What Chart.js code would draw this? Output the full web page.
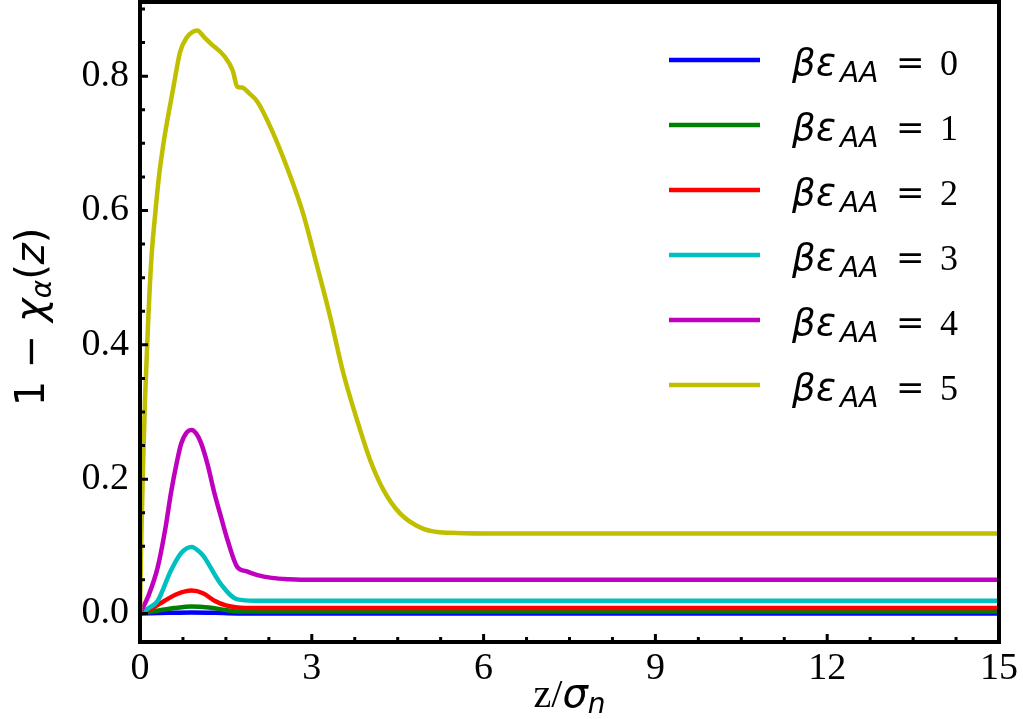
<!DOCTYPE html>
<html>
<head>
    <title>1 - chi_alpha(z)</title>
    <script src="https://cdn.jsdelivr.net/npm/chart.js@4.4.1/dist/chart.umd.min.js"></script>
    <style>
        body { margin: 0; background: #fff; }
    </style>
</head>
<body>
    <canvas id="chiChart" width="1023" height="719"></canvas>

    <script>
        // values
        const xTicks = [0, 3, 6, 9, 12, 15];
        const yTicks = [0, 0.2, 0.4, 0.6, 0.8];
        const legendLabels = ['0', '1', '2', '3', '4', '5'];
        const lineColors = ['#0000ff', '#008000', '#ff0000', '#00bfbf', '#bf00bf', '#bfbf00'];

        const z0 = [0, 0.5, 0.9, 1.3, 1.7, 15];
        const chi0 = [0, 0.001, 0.0015, 0.001, 0, 0];

        const z1 = [0, 0.3, 0.6, 0.9, 1.2, 1.5, 1.7, 2.0, 15];
        const chi1 = [0, 0.004, 0.008, 0.0105, 0.009, 0.005, 0.003, 0.003, 0.003];

        const z2 = [0, 0.2, 0.43, 0.65, 0.9, 1.1, 1.3, 1.5, 1.7, 2.0, 15];
        const chi2 = [0, 0.007, 0.019, 0.029, 0.034, 0.03, 0.019, 0.012, 0.009, 0.008, 0.008];

        const z3 = [0, 0.15, 0.31, 0.54, 0.72, 0.9, 1.06, 1.12, 1.41, 1.7, 2.0, 15];
        const chi3 = [0, 0.008, 0.019, 0.064, 0.09, 0.099, 0.09, 0.084, 0.044, 0.021, 0.019, 0.019];

        const z4 = [0, 0.15, 0.31, 0.45, 0.54, 0.65, 0.72, 0.82, 0.9, 0.98, 1.06, 1.18, 1.3, 1.42, 1.53, 1.7, 1.85, 2.05, 2.3, 2.6, 3.0, 15];
        const chi4 = [0, 0.027, 0.069, 0.13, 0.179, 0.228, 0.253, 0.27, 0.273, 0.268, 0.255, 0.222, 0.179, 0.142, 0.109, 0.069, 0.063, 0.057, 0.053, 0.051, 0.05, 0.05];

        const z5 = [0, 0.02, 0.05, 0.087, 0.145, 0.2, 0.26, 0.33, 0.41, 0.5, 0.58, 0.7, 0.82, 0.92, 1.0, 1.12, 1.24, 1.47, 1.62, 1.7, 1.78, 1.9, 2.05, 2.3, 2.62, 2.85, 3.09, 3.32, 3.55, 3.79, 4.02, 4.25, 4.54, 4.95, 5.42, 6.0, 15];
        const chi5 = [0, 0.1, 0.21, 0.318, 0.44, 0.53, 0.59, 0.65, 0.7, 0.745, 0.782, 0.836, 0.858, 0.866, 0.868, 0.858, 0.848, 0.83, 0.808, 0.784, 0.783, 0.775, 0.762, 0.72, 0.652, 0.595, 0.518, 0.442, 0.358, 0.288, 0.228, 0.184, 0.149, 0.126, 0.12, 0.119, 0.119];

        const zSeries = [z0, z1, z2, z3, z4, z5];
        const chiSeries = [chi0, chi1, chi2, chi3, chi4, chi5];

        const datasets = chiSeries.map((chi, i) => ({
            label: 'βε_AA = ' + legendLabels[i],
            data: chi.map((v, k) => ({ x: zSeries[i][k], y: v })),
            borderColor: lineColors[i],
            backgroundColor: lineColors[i],
            borderWidth: 4.5,
            pointRadius: 0,
            cubicInterpolationMode: 'monotone',
            order: 5 - i   // last curve on top
        }));

        const serif = '"Liberation Serif", "Times New Roman", serif';
        const sans = '"DejaVu Sans", sans-serif';

        // frame, inward ticks, axis titles and legend
        const decorPlugin = {
            id: 'decor',
            afterDraw(chart) {
                const ctx = chart.ctx;
                const a = chart.chartArea;
                const xs = chart.scales.x;
                const ys = chart.scales.y;
                ctx.save();

                ctx.strokeStyle = '#000';
                ctx.lineWidth = 4;
                ctx.strokeRect(a.left, a.top, a.right - a.left, a.bottom - a.top);

                ctx.lineWidth = 3;
                ctx.beginPath();
                for (let k = 0; k <= 20; k++) {
                    const px = xs.getPixelForValue(k * 0.75);
                    const len = k % 4 === 0 ? 8 : 5;
                    ctx.moveTo(px, a.bottom);
                    ctx.lineTo(px, a.bottom - len);
                }
                for (let k = 0; k <= 18; k++) {
                    const py = ys.getPixelForValue(k * 0.05);
                    const len = k % 4 === 0 ? 8 : 5;
                    ctx.moveTo(a.left, py);
                    ctx.lineTo(a.left + len, py);
                }
                ctx.stroke();

                ctx.fillStyle = '#000';
                ctx.textBaseline = 'alphabetic';
                ctx.textAlign = 'left';

                // x title: z/σ_n
                const xMid = (a.left + a.right) / 2;
                ctx.font = '40px ' + serif;
                const wz = ctx.measureText('z/').width;
                ctx.font = 'italic 40px ' + sans;
                const ws = ctx.measureText('σ').width;
                ctx.font = 'italic 28px ' + sans;
                const wn = ctx.measureText('n').width;
                let tx = xMid - (wz + ws + wn) / 2;
                const ty = 707;
                ctx.font = '40px ' + serif;
                ctx.fillText('z/', tx, ty);
                tx += wz;
                ctx.font = 'italic 40px ' + sans;
                ctx.fillText('σ', tx, ty);
                tx += ws;
                ctx.font = 'italic 28px ' + sans;
                ctx.fillText('n', tx, ty + 6);

                // y title: 1 − χ_α(z)
                ctx.save();
                ctx.translate(44, 317);
                ctx.rotate(-Math.PI / 2);
                const parts = [
                    { t: '1 − ', f: '40px ' + sans, dy: 0 },
                    { t: 'χ', f: 'italic 40px ' + sans, dy: 0 },
                    { t: 'α', f: 'italic 28px ' + sans, dy: 7 },
                    { t: '(', f: '40px ' + sans, dy: 0 },
                    { t: 'z', f: 'italic 40px ' + sans, dy: 0 },
                    { t: ')', f: '40px ' + sans, dy: 0 }
                ];
                let total = 0;
                parts.forEach(p => { ctx.font = p.f; p.w = ctx.measureText(p.t).width; total += p.w; });
                let px = -total / 2;
                parts.forEach(p => { ctx.font = p.f; ctx.fillText(p.t, px, p.dy); px += p.w; });
                ctx.restore();

                // legend
                chart.data.datasets.forEach((ds, i) => {
                    const ly = 60 + 65 * i;
                    ctx.strokeStyle = ds.borderColor;
                    ctx.lineWidth = 4.5;
                    ctx.beginPath();
                    ctx.moveTo(669, ly);
                    ctx.lineTo(760, ly);
                    ctx.stroke();
                    const base = ly + 15;
                    ctx.font = 'italic 37px ' + sans;
                    ctx.fillText('β', 792, base);
                    ctx.fillText('ε', 816, base);
                    ctx.font = 'italic 28px ' + sans;
                    ctx.fillText('AA', 840, base + 7);
                    ctx.font = '34px ' + sans;
                    ctx.fillText('=', 896, base - 1);
                    ctx.font = '36px ' + serif;
                    ctx.fillText(legendLabels[i], 940, base);
                });

                ctx.restore();
            }
        };

        const ctx = document.getElementById('chiChart').getContext('2d');
        const chiChart = new Chart(ctx, {
            type: 'line',
            data: { datasets: datasets },
            options: {
                responsive: false,
                animation: false,
                layout: { padding: { top: 2, right: 24, left: 0, bottom: 0 } },
                plugins: {
                    legend: { display: false },
                    tooltip: { enabled: false }
                },
                scales: {
                    x: {
                        type: 'linear',
                        min: 0,
                        max: 15,
                        grid: { display: false, drawTicks: false },
                        border: { display: false },
                        afterBuildTicks: s => { s.ticks = xTicks.map(v => ({ value: v })); },
                        afterFit: s => { s.height = 77; s.paddingLeft = 0; s.paddingRight = 0; },
                        ticks: {
                            color: '#000',
                            font: { family: serif, size: 38 },
                            padding: 4,
                            maxRotation: 0,
                            autoSkip: false,
                            callback: v => String(v)
                        }
                    },
                    y: {
                        type: 'linear',
                        min: -0.0425,
                        max: 0.9104,
                        grid: { display: false, drawTicks: false },
                        border: { display: false },
                        afterBuildTicks: s => { s.ticks = yTicks.map(v => ({ value: v })); },
                        afterFit: s => { s.width = 140; s.paddingTop = 0; s.paddingBottom = 0; },
                        ticks: {
                            color: '#000',
                            font: { family: serif, size: 38 },
                            padding: 11,
                            callback: v => Number(v).toFixed(1)
                        }
                    }
                }
            },
            plugins: [decorPlugin]
        });
    </script>
</body>
</html>
